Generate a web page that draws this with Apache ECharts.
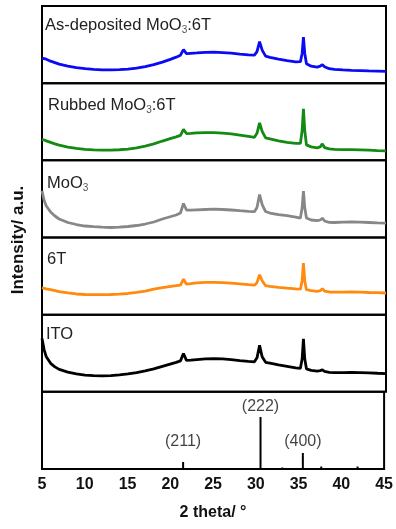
<!DOCTYPE html>
<html>
<head>
<meta charset="utf-8">
<script src="https://cdn.jsdelivr.net/npm/echarts@6/dist/echarts.min.js"></script>
<style>
  html, body {margin: 0; padding: 0; background: #fff;}
  #main {width: 396px; height: 529px;}
</style>
</head>
<body>
<div id="main"></div>
<script>
// 2 theta sample positions shared by all scans
const twoTheta = [5, 5.25, 5.5, 6, 6.5, 7, 8, 9, 10, 11, 12, 13, 14, 15, 16, 17, 18, 19, 20,
  20.6, 21.1, 21.45, 21.8, 22.3, 23, 24, 25, 26, 27, 28, 29, 29.7, 30.0, 30.3, 30.6, 31.0, 31.5,
  32.5, 33.5, 34.5, 35.05, 35.25, 35.4, 35.55, 35.75, 36.3, 37.0, 37.35, 37.6, 37.85, 38.4,
  39, 40, 41, 42, 43, 44, 45];

const asDeposited = [25, 24.5, 24, 22, 20.5, 19, 17, 15.5, 14.5, 13.8, 13.3, 13.2, 13.5, 14, 15, 16.5, 18.5, 21, 24,
  26, 28, 33.5, 29.5, 29.8, 30.2, 30.8, 31, 30.5, 30, 29, 28.2, 28, 31.5, 41.5, 33, 27, 25.8,
  24, 22.5, 21.3, 21.5, 30, 46, 30, 19.5, 17, 16, 17, 18.5, 16.5, 14.5,
  13.8, 13.2, 12.8, 12.5, 12.2, 12, 11.7];
const rubbed = [21, 20.3, 19.5, 18, 16.5, 15.2, 13.2, 12, 11, 10.5, 10.2, 10.2, 10.6, 11.3, 12.5, 14.3, 16.5, 19.3, 22,
  23.5, 25, 31, 26.8, 27, 27.5, 27.8, 27.7, 27.3, 26.5, 25.3, 24, 23, 27, 37.5, 29, 22.5, 21.5,
  19.5, 18, 17, 17, 30, 51.5, 30, 15.5, 13.5, 12.5, 13.5, 16.5, 12.8, 11.5,
  11, 10.8, 10.7, 10.5, 10.2, 9.8, 9.5];
const moo3 = [46.7, 37, 31.5, 25.5, 21.5, 18.5, 15, 13, 11.5, 10.8, 10.3, 10, 10.3, 11, 12, 13.5, 15.5, 18.5, 21,
  22.5, 24.5, 34, 27.5, 27.3, 27.7, 28, 28.3, 28, 27.5, 26.8, 26.2, 25.8, 30, 43, 33, 26, 24.5,
  22.8, 21.8, 20.5, 19.5, 30, 46.5, 30, 19.5, 17.5, 16.8, 17.5, 19.3, 16.5, 15.2,
  15, 15.3, 15.5, 15.3, 15, 14.6, 14.3];
const sixT = [26.7, 26.3, 25.8, 25, 24, 23, 21.8, 20.7, 20.2, 20, 20, 20.2, 20.6, 21.2, 22.2, 23.5, 25.5, 27, 28.3,
  29, 29.6, 35.5, 30.5, 31, 31.8, 32.3, 32.3, 32, 31.5, 30.8, 30, 29.5, 32, 40, 34, 29, 28.3,
  27.3, 26.5, 25.8, 25.5, 34, 51.5, 34, 25, 24, 23.4, 24, 26, 23.5, 22.7,
  22.5, 22.6, 22.7, 22.5, 22.2, 22, 21.7];
const ito = [53.3, 42, 35, 28.5, 25, 22.5, 19.8, 18, 16.8, 16.2, 16, 16.3, 17, 18, 19.3, 21, 23, 25.5, 28,
  29.5, 31, 38.3, 31.5, 31.8, 32.3, 33, 33.3, 33, 32.3, 31.3, 30.5, 30, 34, 46.5, 35, 29.5, 28.8,
  27, 25.5, 24, 23.5, 33, 53, 33, 23, 21.5, 20.8, 21.3, 22, 20.5, 19.5,
  19.2, 19.3, 19.5, 19.3, 19, 18.6, 18.3];

// reference pattern sticks
const refTheta = [21.5, 30.55, 33.1, 35.5, 37.65, 41.9];
const refIntensity = [7, 52, 1.5, 16, 2.5, 2.5];
const hklLabels = ['(211)', '(222)', '(400)'];
const hklTheta = [21.5, 30.55, 35.5];
const hklY = [27, 62, 27];

const panels = [
  {pre: 'As-deposited MoO', post: ':6T', values: asDeposited, color: '#0a0af5', tx: 45, ty: 16.5},
  {pre: 'Rubbed MoO', post: ':6T', values: rubbed, color: '#138a13', tx: 48, ty: 97},
  {pre: 'MoO', post: '', values: moo3, color: '#878787', tx: 47, ty: 174.5},
  {pre: '6T', post: '', values: sixT, color: '#ff8a0d', tx: 47, ty: 251},
  {pre: 'ITO', post: '', values: ito, color: '#000000', tx: 46, ty: 326},
];

const FONT = '"Liberation Sans", Arial, sans-serif';
const top0 = 6, panelH = 77.17, nGrid = 6;

const grids = [], xAxes = [], yAxes = [], series = [], graphics = [];
for (let i = 0; i < nGrid; i++) {
  const last = i === nGrid - 1;
  grids.push({left: 42, right: 10, top: top0 + i * panelH, height: panelH,
    show: true, borderColor: '#000', borderWidth: 2, backgroundColor: 'transparent'});
  xAxes.push({
    type: 'value', gridIndex: i, min: 5, max: 45, interval: 5,
    axisLine: {show: false}, axisTick: {show: false}, splitLine: {show: false},
    axisLabel: {show: last, color: '#111', fontFamily: FONT, fontWeight: 'bold', fontSize: 16, margin: 8},
    name: last ? '2 theta/ °' : '', nameLocation: 'middle', nameGap: 36,
    nameTextStyle: {color: '#111', fontFamily: FONT, fontWeight: 'bold', fontSize: 16}
  });
  yAxes.push({type: 'value', gridIndex: i, min: 0, max: panelH, show: false});
}

panels.forEach((p, i) => {
  series.push({
    type: 'line', xAxisIndex: i, yAxisIndex: i, showSymbol: false, animation: false,
    lineStyle: {color: p.color, width: 2.8},
    data: twoTheta.map((t, k) => [t, p.values[k]])
  });
  const hasSub = p.pre.endsWith('MoO');
  graphics.push({
    type: 'text', left: p.tx, top: p.ty,
    style: {
      text: hasSub ? '{a|' + p.pre + '}{s|3}{a|' + p.post + '}' : '{a|' + p.pre + '}',
      rich: {
        a: {fontFamily: FONT, fontSize: 16.5, lineHeight: 16, padding: [0, 0, 4, 0], fill: '#222'},
        s: {fontFamily: FONT, fontSize: 10, lineHeight: 10, verticalAlign: 'bottom', fill: '#555'}
      }
    }
  });
});

series.push({
  type: 'bar', xAxisIndex: 5, yAxisIndex: 5, barWidth: 2, animation: false,
  itemStyle: {color: '#000'},
  data: refTheta.map((t, k) => [t, refIntensity[k]])
});
series.push({
  type: 'scatter', xAxisIndex: 5, yAxisIndex: 5, symbolSize: 0, animation: false,
  itemStyle: {color: '#000'},
  label: {show: true, position: 'inside', color: '#111', textBorderWidth: 0, fontFamily: FONT, fontSize: 16,
    formatter: (d) => d.data[2]},
  data: hklTheta.map((t, k) => [t, hklY[k], hklLabels[k]])
});

graphics.push({
  type: 'text', x: 18.5, y: 240, rotation: Math.PI / 2,
  style: {text: 'Intensity/ a.u.', fontFamily: FONT, fontWeight: 'bold', fontSize: 17, fill: '#111',
    textAlign: 'center', textVerticalAlign: 'middle'}
});

const chart = echarts.init(document.getElementById('main'), null, {renderer: 'canvas'});
chart.setOption({
  backgroundColor: '#fff',
  animation: false,
  grid: grids,
  xAxis: xAxes,
  yAxis: yAxes,
  series: series,
  graphic: graphics
});
</script>
</body>
</html>
